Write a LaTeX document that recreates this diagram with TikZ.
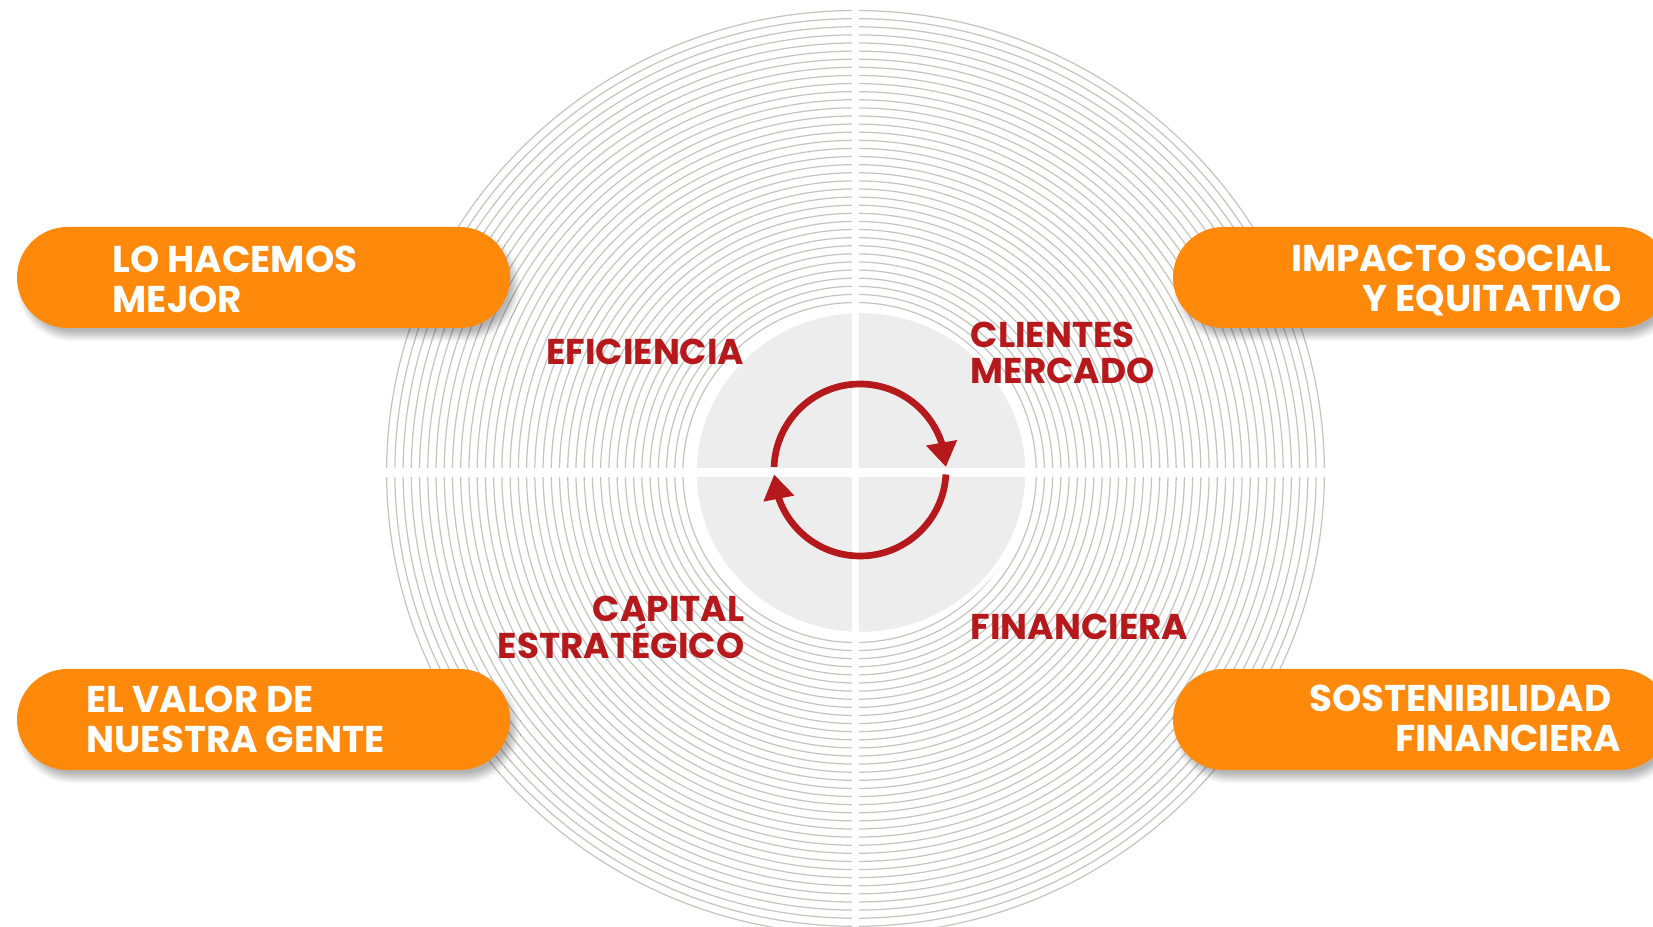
\documentclass[tikz,border=0pt]{standalone}
\usepackage{fontspec}
\newfontfamily\spartan{Poppins}
\usetikzlibrary{arrows.meta,bending,shadows.blur}
\definecolor{naranja}{RGB}{255,137,10}
\definecolor{granate}{RGB}{181,25,27}
\definecolor{anillo}{RGB}{198,196,193}
\tikzset{
  pill/.style={fill=naranja,rounded corners=0.505cm,minimum height=1.01cm,inner sep=0pt,
    blur shadow={shadow xshift=0.05cm,shadow yshift=-0.08cm,shadow opacity=30,shadow blur steps=8}},
  pilltext/.style={text=white,inner sep=0pt,font=\spartan\bfseries\fontsize{10.6}{11.6}\selectfont},
  eje/.style={text=granate,inner sep=0pt,font=\spartan\bfseries\fontsize{10.2}{10.5}\selectfont},
  ciclo/.style={granate,line width=1.9pt,-{Triangle[length=7pt,width=8.5pt]}}
}
\begin{document}
\begin{tikzpicture}[scale=1,>=stealth]
\useasboundingbox (0,0) rectangle (16.53,9.26);
% rings
\begin{scope}[shift={(8.555,4.535)},xscale=1.015]
\foreach \r in {1.70,1.7811,...,4.63}
  \draw[anillo,line width=0.35pt] (0,0) circle (\r);
\end{scope}
\filldraw[fill=black!7,draw=white,line width=1.5pt] (8.61,4.535) ellipse (1.67 and 1.62);
% white cross
\fill[white] (8.52,-0.1) rectangle (8.59,9.4);
\fill[white] (3.7,4.49) rectangle (13.4,4.58);
% cycle
\draw[ciclo] (8.60,4.56) ++(178:0.86) arc (178:2:0.86);
\draw[ciclo] (8.60,4.56) ++(-3:0.86) arc (-3:-177:0.86);
% quadrant labels
\node[eje,anchor=base east] (eficiencia) at (7.45,5.61) {EFICIENCIA};
\node[eje,anchor=base west,align=left] (clientes) at (9.70,5.42) {CLIENTES\\MERCADO};
\node[eje,anchor=base east,align=right] (capital) at (7.45,2.68) {CAPITAL\\ESTRATÉGICO};
\node[eje,anchor=base west] (financiera) at (9.70,2.86) {FINANCIERA};
% orange pills
\node[pill,minimum width=4.93cm] (hacemos) at (2.635,6.485) {};
\node[pill,minimum width=4.97cm] (impacto) at (14.215,6.485) {};
\node[pill,minimum width=4.93cm] (valor) at (2.635,2.065) {};
\node[pill,minimum width=4.97cm] (sostenibilidad) at (14.215,2.065) {};
\node[pilltext,anchor=base west,align=left] (hacemosT) at (1.12,6.13) {LO HACEMOS\\MEJOR};
\node[pilltext,anchor=base east,align=right] (impactoT) at (16.22,6.14) {IMPACTO SOCIAL\hspace*{0.1cm}\\Y EQUITATIVO};
\node[pilltext,anchor=base west,align=left] (valorT) at (0.86,1.73) {EL VALOR DE\\NUESTRA GENTE};
\node[pilltext,anchor=base east,align=right] (sostenibilidadT) at (16.22,1.74) {SOSTENIBILIDAD\hspace*{0.1cm}\\FINANCIERA};
\end{tikzpicture}
\end{document}
